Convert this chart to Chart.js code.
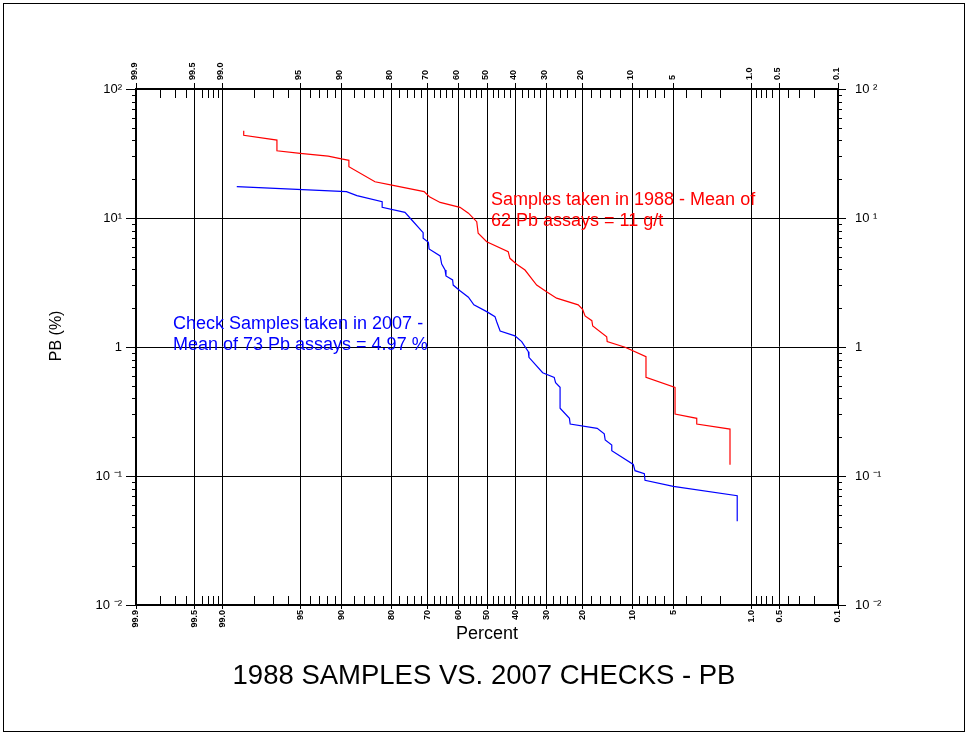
<!DOCTYPE html>
<html>
<head>
<meta charset="utf-8">
<script src="https://cdn.jsdelivr.net/npm/chart.js@4.4.1/dist/chart.umd.min.js"></script>
<style>
  html, body { margin: 0; padding: 0; background: #fff; }
  canvas { display: block; }
</style>
</head>
<body>
<canvas id="chart" width="968" height="734"></canvas>
<script>
// percent axis (probability scale)
const pctTicks  = [99.9, 99.5, 99.0, 95, 90, 80, 70, 60, 50, 40, 30, 20, 10, 5, 1.0, 0.5, 0.1];
const pctLabels = ['99.9', '99.5', '99.0', '95', '90', '80', '70', '60', '50', '40', '30', '20', '10', '5', '1.0', '0.5', '0.1'];
const pctMinor  = [99.8, 99.7, 99.6, 99.4, 99.3, 99.2, 99.1, 98, 97, 96, 94, 93, 92, 91,
                   88, 86, 84, 82, 78, 76, 74, 72, 68, 66, 64, 62, 58, 56, 54, 52,
                   48, 46, 44, 42, 38, 36, 34, 32, 28, 26, 24, 22, 18, 16, 14, 12,
                   9, 8, 7, 6, 4, 3, 2, 0.9, 0.8, 0.7, 0.6, 0.4, 0.3, 0.2];

// log axis
const yTicks       = [0.01, 0.1, 1, 10, 100];
const yLabelsLeft  = ['10 \u207B\u00B2', '10 \u207B\u00B9', '1', '10\u00B9', '10\u00B2'];
const yLabelsRight = ['10 \u207B\u00B2', '10 \u207B\u00B9', '1', '10 \u00B9', '10 \u00B2'];
const yMinor = [0.02, 0.03, 0.04, 0.05, 0.06, 0.07, 0.08, 0.09,
                0.2, 0.3, 0.4, 0.5, 0.6, 0.7, 0.8, 0.9,
                2, 3, 4, 5, 6, 7, 8, 9,
                20, 30, 40, 50, 60, 70, 80, 90];

// 1988 samples (red)
const redPct = [98.39, 98.39, 96.78, 96.78, 95.0, 91.9, 90.0, 88.8, 88.8, 83.8,
                79.9, 71.0, 69.4, 66.0, 59.4, 56.5, 53.6, 53.1, 50.1, 42.6,
                42.0, 39.7, 36.9, 33.1, 30.0, 27.0, 21.1, 20.0, 19.4, 17.8,
                17.6, 14.6, 14.5, 11.2, 8.08, 8.08, 4.89, 4.89, 3.24, 3.24,
                1.62, 1.62];
const redVal = [47.5, 43.8, 40.2, 33.2, 31.7, 30.2, 28.7, 28.0, 25.0, 19.1,
                18.0, 16.0, 14.6, 13.2, 12.1, 10.9, 9.36, 7.61, 6.55, 5.48,
                4.87, 4.38, 3.95, 3.02, 2.68, 2.39, 2.12, 1.96, 1.74, 1.60,
                1.455, 1.20, 1.10, 0.995, 0.841, 0.582, 0.487, 0.302, 0.280, 0.253,
                0.231, 0.122];

// 2007 check samples (blue)
const bluePct = [98.62, 89.2, 87.4, 82.2, 82.2, 76.5, 74.6, 71.3, 71.3, 69.7,
                 69.5, 66.0, 65.5, 64.4, 64.1, 61.9, 61.7, 59.4, 56.5, 54.6,
                 50.1, 47.2, 46.6, 45.4, 40.3, 38.0, 35.8, 35.6, 31.2, 27.7,
                 27.3, 26.0, 26.0, 23.4, 23.2, 16.6, 15.1, 14.9, 13.6, 13.6,
                 9.89, 9.63, 8.30, 8.21, 5.05, 1.38, 1.38];
const blueVal = [17.5, 16.0, 14.9, 13.4, 12.1, 11.07, 9.65, 7.69, 6.96, 6.48,
                 5.75, 5.08, 4.40, 3.95, 3.55, 3.31, 3.02, 2.73, 2.43, 2.12,
                 1.88, 1.72, 1.57, 1.33, 1.22, 1.10, 0.92, 0.832, 0.632, 0.582,
                 0.529, 0.487, 0.335, 0.280, 0.253, 0.234, 0.212, 0.190, 0.174, 0.157,
                 0.123, 0.110, 0.104, 0.0926, 0.0832, 0.0704, 0.0446];

const redNote  = ['Samples taken in 1988 - Mean of', '62 Pb assays = 11 g/t'];
const blueNote = ['Check Samples taken in 2007 -', 'Mean of 73 Pb assays = 4.97 %'];

const fontFam = '"Liberation Sans", Arial, sans-serif';

// inverse normal cdf (Acklam)
function probit(p) {
    const a = [-3.969683028665376e+01, 2.209460984245205e+02, -2.759285104469687e+02, 1.383577518672690e+02, -3.066479806614716e+01, 2.506628277459239e+00];
    const b = [-5.447609879822406e+01, 1.615858368580409e+02, -1.556989798598866e+02, 6.680131188771972e+01, -1.328068155288572e+01];
    const c = [-7.784894002430293e-03, -3.223964580411365e-01, -2.400758277161838e+00, -2.549671348283430e+00, 4.374664141464968e+00, 2.938163982698783e+00];
    const d = [7.784695709041462e-03, 3.224671290700398e-01, 2.445134176688415e+00, 3.754408361280193e+00];
    const lo = 0.02425;
    let q, r;
    if (p < lo) {
        q = Math.sqrt(-2 * Math.log(p));
        return (((((c[0]*q+c[1])*q+c[2])*q+c[3])*q+c[4])*q+c[5]) / ((((d[0]*q+d[1])*q+d[2])*q+d[3])*q+1);
    }
    if (p > 1 - lo) {
        q = Math.sqrt(-2 * Math.log(1 - p));
        return -(((((c[0]*q+c[1])*q+c[2])*q+c[3])*q+c[4])*q+c[5]) / ((((d[0]*q+d[1])*q+d[2])*q+d[3])*q+1);
    }
    q = p - 0.5; r = q * q;
    return (((((a[0]*r+a[1])*r+a[2])*r+a[3])*r+a[4])*r+a[5])*q / (((((b[0]*r+b[1])*r+b[2])*r+b[3])*r+b[4])*r+1);
}
const pz = p => probit(p / 100);

function pctAxis(position) {
    const top = position === 'top';
    return {
        type: 'linear',
        position,
        min: pz(0.1),
        max: pz(99.9),
        reverse: true,
        afterBuildTicks: s => { s.ticks = pctTicks.map(p => ({ value: pz(p) })); },
        afterFit: s => { s.height = top ? 89 : 54.5; },
        ticks: {
            autoSkip: false, minRotation: 90, maxRotation: 90,
            padding: top ? 3 : 1,
            labelOffset: top ? 9 : 0,
            color: '#000',
            font: { family: fontFam, size: 9, weight: 'bold' },
            callback: (v, i) => pctLabels[i]
        },
        grid: { drawOnChartArea: !top, color: '#000', lineWidth: 1, tickLength: top ? 6 : 4 },
        border: { display: true, color: '#000', width: 2 },
        title: top ? { display: false } : {
            display: true, text: 'Percent', color: '#000',
            font: { family: fontFam, size: 18 },
            padding: { top: 0, bottom: 14.7 }
        }
    };
}

function logAxis(position) {
    const left = position === 'left';
    return {
        type: 'logarithmic',
        position,
        min: 0.01,
        max: 100,
        afterBuildTicks: s => { s.ticks = yTicks.map(v => ({ value: v })); },
        afterFit: s => { s.width = left ? 136 : 130; },
        ticks: {
            autoSkip: false,
            padding: left ? 4 : 9,
            color: '#000',
            font: { family: fontFam, size: 13 },
            callback: (v, i) => (left ? yLabelsLeft : yLabelsRight)[i]
        },
        grid: { drawOnChartArea: left, color: '#000', lineWidth: 1, tickLength: left ? 10 : 8 },
        border: { display: true, color: '#000', width: 2 },
        title: left ? {
            display: true, text: '     PB (%)', color: '#000',
            font: { family: fontFam, size: 16 },
            padding: { top: 47, bottom: 0 }
        } : { display: false }
    };
}

const extras = {
    id: 'extras',
    beforeDraw(chart) {
        const ctx = chart.ctx;
        ctx.save();
        ctx.fillStyle = '#fff';
        ctx.fillRect(0, 0, chart.width, chart.height);
        ctx.restore();
    },
    afterDraw(chart) {
        const { ctx, chartArea: a, scales } = chart;
        ctx.save();
        ctx.strokeStyle = '#000';
        ctx.lineWidth = 1;
        ctx.beginPath();
        pctMinor.forEach(p => {
            const x = Math.round(scales.x.getPixelForValue(pz(p))) + 0.5;
            ctx.moveTo(x, a.top); ctx.lineTo(x, a.top + 9);
            ctx.moveTo(x, a.bottom); ctx.lineTo(x, a.bottom - 9);
        });
        yMinor.forEach(v => {
            const y = Math.round(scales.y.getPixelForValue(v)) + 0.5;
            ctx.moveTo(a.left - 4, y); ctx.lineTo(a.left, y);
            ctx.moveTo(a.right, y); ctx.lineTo(a.right + 4, y);
        });
        ctx.stroke();

        // notes
        ctx.font = '18px ' + fontFam;
        ctx.textAlign = 'left';
        ctx.textBaseline = 'middle';
        const note = (lines, p, v, color) => {
            const x = scales.x.getPixelForValue(pz(p));
            const y = scales.y.getPixelForValue(v);
            ctx.fillStyle = color;
            lines.forEach((t, i) => ctx.fillText(t, x, y + i * 21));
        };
        note(redNote, 48.6, 13.8, '#ff0000');
        note(blueNote, 99.715, 1.507, '#0000ff');

        // outer frame
        ctx.strokeRect(3.5, 3.5, 961, 728);
        ctx.restore();
    }
};

new Chart(document.getElementById('chart'), {
    type: 'line',
    data: {
        datasets: [
            {
                label: 'Samples taken in 1988',
                data: redPct.map((p, i) => ({ x: pz(p), y: redVal[i] })),
                borderColor: '#ff0000',
                borderWidth: 1.2,
                pointRadius: 0,
                tension: 0,
                xAxisID: 'x', yAxisID: 'y'
            },
            {
                label: 'Check Samples taken in 2007',
                data: bluePct.map((p, i) => ({ x: pz(p), y: blueVal[i] })),
                borderColor: '#0000ff',
                borderWidth: 1.2,
                pointRadius: 0,
                tension: 0,
                xAxisID: 'x', yAxisID: 'y'
            }
        ]
    },
    options: {
        responsive: false,
        animation: false,
        devicePixelRatio: 1,
        layout: { padding: 0 },
        plugins: {
            legend: { display: false },
            tooltip: { enabled: false },
            title: {
                display: true,
                position: 'bottom',
                text: '1988 SAMPLES VS. 2007 CHECKS - PB',
                color: '#000',
                font: { family: fontFam, size: 27.5, weight: 'normal' },
                padding: { top: 0, bottom: 41.5 }
            }
        },
        scales: {
            x: pctAxis('bottom'),
            x2: pctAxis('top'),
            y: logAxis('left'),
            y2: logAxis('right')
        }
    },
    plugins: [extras]
});
</script>
</body>
</html>
